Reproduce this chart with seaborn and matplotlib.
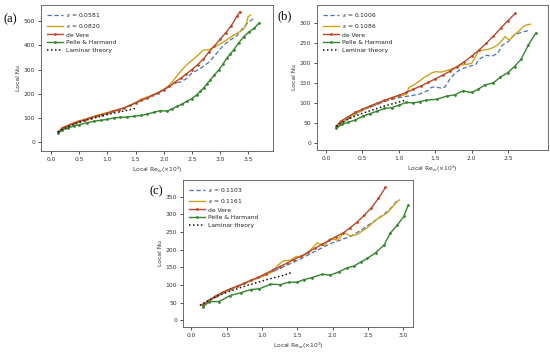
import matplotlib
matplotlib.use("Agg")
import matplotlib.pyplot as plt
import seaborn as sns

# ---------------- Panel (a) ----------------
a_eps1_label = "0.0581"
a_eps2_label = "0.0820"
a_x_e1 = [0.12, 0.2, 0.3, 0.4, 0.5, 0.6, 0.7, 0.8, 0.9, 1.0, 1.1, 1.2, 1.3, 1.4, 1.5, 1.6, 1.7, 1.8, 1.9, 2.0,
          2.1, 2.2, 2.3, 2.4, 2.5, 2.6, 2.7, 2.8, 2.9, 3.0, 3.1, 3.2, 3.3, 3.4, 3.5, 3.6]
a_y_e1 = [38, 55, 65, 76, 84, 92, 99, 106, 113, 119, 126, 133, 140, 150, 160, 172, 182, 192, 203, 215,
          232, 246, 248, 262, 285, 298, 312, 330, 356, 385, 408, 425, 440, 470, 495, 512]
a_x_e2 = [0.12, 0.2, 0.3, 0.4, 0.5, 0.6, 0.7, 0.8, 0.9, 1.0, 1.1, 1.2, 1.3, 1.4, 1.5, 1.6, 1.7, 1.8, 1.9, 2.0,
          2.1, 2.18, 2.3, 2.4, 2.5, 2.6, 2.71, 2.8, 2.9, 3.0, 3.1, 3.2, 3.3, 3.4, 3.45, 3.5, 3.54]
a_y_e2 = [40, 60, 70, 80, 88, 95, 102, 110, 116, 122, 130, 136, 142, 152, 164, 178, 186, 195, 205, 218,
          236, 258, 292, 318, 338, 358, 381, 382, 395, 405, 420, 436, 450, 464, 478, 519, 525]
a_x_dv = [0.12, 0.2, 0.3, 0.4, 0.5, 0.6, 0.7, 0.8, 0.9, 1.0, 1.1, 1.2, 1.3, 1.4, 1.5, 1.6, 1.7, 1.8, 1.9, 2.0,
          2.1, 2.2, 2.3, 2.4, 2.5, 2.6, 2.7, 2.8, 2.9, 3.0, 3.1, 3.2, 3.3, 3.35]
a_y_dv = [41, 58, 68, 78, 86, 92, 100, 107, 114, 120, 127, 134, 142, 152, 162, 172, 182, 193, 204, 217,
          230, 248, 264, 282, 300, 320, 342, 372, 398, 425, 452, 482, 520, 538]
a_x_ph = [0.12, 0.2, 0.3, 0.4, 0.5, 0.64, 0.76, 0.88, 1.0, 1.11, 1.23, 1.35, 1.47, 1.59, 1.71, 1.82, 1.94, 2.06,
          2.15, 2.24, 2.33, 2.41, 2.5, 2.59, 2.65, 2.71, 2.77, 2.83, 2.9, 2.98, 3.05, 3.12, 3.18, 3.24, 3.33,
          3.42, 3.51, 3.6, 3.7]
a_y_ph = [36, 50, 58, 66, 72, 80, 86, 90, 94, 100, 102, 104, 107, 110, 116, 123, 130, 128,
          138, 148, 158, 169, 180, 196, 210, 224, 242, 258, 278, 299, 322, 347, 364, 381, 410,
          436, 455, 470, 494]
a_x_lam = [0.12, 0.2, 0.3, 0.4, 0.5, 0.6, 0.7, 0.8, 0.9, 1.0, 1.1, 1.2, 1.3, 1.4, 1.53]
a_y_lam = [41, 52, 63, 73, 81, 89, 96, 102, 108, 114, 119, 124, 129, 134, 141]

# ---------------- Panel (b) ----------------
b_eps1_label = "0.1006"
b_eps2_label = "0.1086"
b_x_e1 = [0.14, 0.2, 0.3, 0.4, 0.5, 0.6, 0.7, 0.8, 0.9, 1.0, 1.1, 1.2, 1.3, 1.4, 1.45, 1.5, 1.58, 1.63, 1.7,
          1.77, 1.85, 1.95, 2.05, 2.12, 2.2, 2.28, 2.36, 2.42, 2.5, 2.59, 2.7, 2.8]
b_y_e1 = [40, 48, 60, 72, 82, 90, 97, 104, 110, 114, 117, 120, 124, 132, 140, 141, 138, 140, 160,
          175, 185, 192, 196, 212, 220, 218, 225, 245, 254, 272, 278, 283]
b_x_e2 = [0.14, 0.2, 0.3, 0.4, 0.5, 0.6, 0.7, 0.8, 0.9, 1.0, 1.1, 1.12, 1.14, 1.2, 1.27, 1.35, 1.41, 1.45, 1.5,
          1.58, 1.68, 1.78, 1.86, 1.95, 2.0, 2.05, 2.09, 2.15, 2.23, 2.3, 2.36, 2.42, 2.46, 2.52, 2.58, 2.64,
          2.7, 2.75, 2.81]
b_y_e2 = [40, 50, 62, 74, 83, 92, 99, 106, 113, 118, 122, 130, 140, 145, 154, 165, 171, 176, 179,
          178, 183, 190, 196, 198, 200, 215, 230, 233, 235, 240, 246, 258, 267, 258, 270, 279,
          290, 296, 298]
b_x_dv = [0.14, 0.2, 0.3, 0.4, 0.5, 0.6, 0.7, 0.8, 0.9, 1.0, 1.1, 1.2, 1.3, 1.4, 1.5, 1.6, 1.7, 1.8, 1.9, 2.0,
          2.1, 2.2, 2.3, 2.4, 2.5, 2.6]
b_y_dv = [43, 55, 66, 77, 85, 93, 100, 107, 114, 120, 127, 135, 143, 152, 161, 170, 180, 192, 204, 218,
          233, 250, 268, 288, 307, 325]
b_x_ph = [0.14, 0.22, 0.3, 0.4, 0.51, 0.6, 0.7, 0.8, 0.9, 1.0, 1.1, 1.2, 1.29, 1.38, 1.52, 1.66, 1.77, 1.88,
          2.0, 2.09, 2.18, 2.3, 2.39, 2.5, 2.59, 2.68, 2.78, 2.88]
b_y_ph = [37, 48, 52, 58, 68, 74, 80, 87, 89, 95, 102, 101, 104, 108, 110, 118, 121, 131,
          127, 135, 146, 151, 165, 177, 192, 210, 246, 275]
b_x_lam = [0.14, 0.2, 0.3, 0.4, 0.5, 0.6, 0.7, 0.8, 0.9, 1.0, 1.1]
b_y_lam = [42, 50, 60, 68, 75, 81, 87, 93, 98, 103, 108]

# ---------------- Panel (c) ----------------
c_eps1_label = "0.1103"
c_eps2_label = "0.1161"
c_x_e1 = [0.12, 0.25, 0.35, 0.5, 0.65, 0.8, 0.95, 1.1, 1.25, 1.4, 1.55, 1.69, 1.83, 1.97, 2.1, 2.26, 2.4,
          2.49, 2.6, 2.73, 2.85, 2.92]
c_y_e1 = [42, 55, 66, 82, 95, 108, 120, 133, 147, 160, 174, 189, 203, 217, 226, 238, 255,
          267, 282, 300, 322, 341]
c_x_e2 = [0.16, 0.25, 0.35, 0.45, 0.55, 0.65, 0.75, 0.85, 0.95, 1.05, 1.15, 1.22, 1.3, 1.4, 1.48, 1.55, 1.62,
          1.69, 1.78, 1.88, 1.97, 2.07, 2.16, 2.26, 2.35, 2.49, 2.63, 2.78, 2.91, 2.95]
c_y_e2 = [42, 55, 68, 79, 88, 96, 104, 112, 120, 128, 138, 155, 168, 170, 180, 181, 186,
          200, 219, 211, 231, 227, 248, 238, 243, 262, 286, 305, 335, 341]
c_x_dv = [0.16, 0.25, 0.35, 0.45, 0.55, 0.65, 0.75, 0.85, 0.95, 1.05, 1.15, 1.25, 1.35, 1.45, 1.55, 1.65, 1.75,
          1.85, 1.95, 2.05, 2.15, 2.25, 2.35, 2.45, 2.55, 2.65, 2.75]
c_y_dv = [44, 57, 70, 80, 89, 97, 105, 114, 122, 132, 142, 152, 161, 172, 181, 192, 204,
          215, 226, 237, 247, 262, 278, 298, 318, 345, 376]
c_x_ph = [0.16, 0.25, 0.39, 0.55, 0.70, 0.84, 0.96, 1.12, 1.26, 1.38, 1.50, 1.59, 1.71, 1.85, 1.97, 2.09,
          2.21, 2.30, 2.40, 2.49, 2.61, 2.73, 2.82, 2.92, 3.01, 3.07]
c_y_ph = [37, 53, 53, 70, 78, 87, 89, 102, 101, 108, 108, 115, 121, 130, 128, 137,
          149, 153, 165, 175, 191, 213, 247, 270, 294, 325]
c_x_lam = [0.12, 0.2, 0.3, 0.4, 0.5, 0.6, 0.7, 0.8, 0.9, 1.0, 1.1, 1.2, 1.3, 1.42]
c_y_lam = [42, 52, 62, 71, 79, 86, 93, 99, 105, 111, 117, 122, 127, 135]

panel_labels = ["(a)", "(b)", "(c)"]
x_label = "Local Re$_w$(×10$^5$)"
y_label = "Local Nu"

C_E1 = "#4c6fb8"
C_E2 = "#cfa21c"
C_DV = "#b9492b"
C_PH = "#35852f"
C_LAM = "#111111"

fig = plt.figure(figsize=(5.5, 3.52), dpi=100)
plt.rcParams["font.family"] = ["DejaVu Sans"]

axes_pos = [
    [41 / 550, (352 - 151) / 352, 232 / 550, 146 / 352],
    [317 / 550, (352 - 150) / 352, 231 / 550, 145 / 352],
    [183 / 550, (352 - 327) / 352, 230 / 550, 147 / 352],
]
panels = [
    (a_eps1_label, a_x_e1, a_y_e1, a_eps2_label, a_x_e2, a_y_e2, a_x_dv, a_y_dv, a_x_ph, a_y_ph, a_x_lam, a_y_lam),
    (b_eps1_label, b_x_e1, b_y_e1, b_eps2_label, b_x_e2, b_y_e2, b_x_dv, b_y_dv, b_x_ph, b_y_ph, b_x_lam, b_y_lam),
    (c_eps1_label, c_x_e1, c_y_e1, c_eps2_label, c_x_e2, c_y_e2, c_x_dv, c_y_dv, c_x_ph, c_y_ph, c_x_lam, c_y_lam),
]
xlims = [(-0.18, 3.94), (-0.125, 3.05), (-0.12, 3.14)]
ylims = [(-37, 567), (-17, 346), (-19, 397)]
xticks = [[0, 0.5, 1, 1.5, 2, 2.5, 3, 3.5], [0, 0.5, 1, 1.5, 2, 2.5], [0, 0.5, 1, 1.5, 2, 2.5, 3]]
yticks = [list(range(0, 501, 100)), list(range(0, 301, 50)), list(range(0, 351, 50))]
label_pos = [(3 / 550, 1 - 19 / 352), (278 / 550, 1 - 16 / 352), (150 / 550, 1 - 191 / 352)]

FS = 4.3
for i, (l1, x1, y1, l2, x2, y2, xd, yd, xp, yp, xl, yl) in enumerate(panels):
    ax = fig.add_axes(axes_pos[i])
    sns.lineplot(x=x1, y=y1, ax=ax, color=C_E1, lw=0.9, linestyle=(0, (3.5, 2)),
                 label=r"$\varepsilon$ = " + l1, sort=False)
    sns.lineplot(x=x2, y=y2, ax=ax, color=C_E2, lw=1.0, label=r"$\varepsilon$ = " + l2, sort=False)
    sns.lineplot(x=xd, y=yd, ax=ax, color=C_DV, lw=1.0, marker="o", markersize=2,
                 markeredgewidth=0, label="de Vere", sort=False)
    sns.lineplot(x=xp, y=yp, ax=ax, color=C_PH, lw=1.0, marker="o", markersize=2,
                 markeredgewidth=0, label="Pelle & Harmand", sort=False)
    sns.lineplot(x=xl, y=yl, ax=ax, color=C_LAM, lw=1.1, linestyle=(0, (1, 1.6)),
                 label="Laminar theory", sort=False)
    ax.set_xlim(*xlims[i])
    ax.set_ylim(*ylims[i])
    ax.set_xticks(xticks[i])
    ax.set_xticklabels([f"{t:.1f}" for t in xticks[i]])
    ax.set_yticks(yticks[i])
    ax.tick_params(labelsize=FS, length=2.2, width=0.6, pad=2, colors="#333333")
    for s in ax.spines.values():
        s.set_linewidth(0.6)
        s.set_color("#555555")
    ax.set_xlabel(x_label, fontsize=FS, labelpad=2, color="#333333")
    ax.set_ylabel(y_label, fontsize=FS, labelpad=2, color="#333333")
    leg = ax.legend(loc="upper left", fontsize=FS, frameon=False, handlelength=2.6,
                    labelspacing=0.45, borderaxespad=0.6, handletextpad=0.6)
    for t in leg.get_texts():
        t.set_color("#222222")
    fig.text(label_pos[i][0], label_pos[i][1], panel_labels[i], fontsize=9,
             family=["Liberation Serif", "DejaVu Serif"], va="center", ha="left")

fig.savefig("out.png", dpi=100)
